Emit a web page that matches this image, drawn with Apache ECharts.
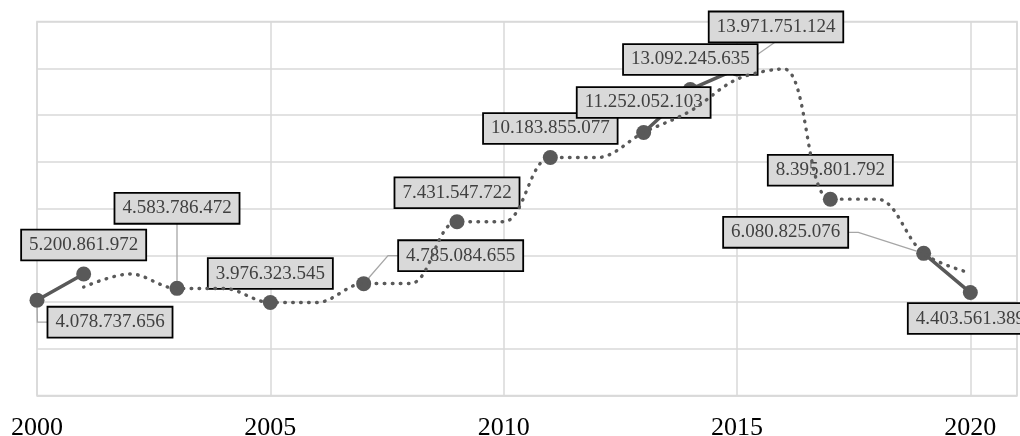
<!DOCTYPE html>
<html>
<head>
<meta charset="utf-8">
<script src="https://cdn.jsdelivr.net/npm/echarts@6/dist/echarts.min.js"></script>
<style>
  html, body { margin: 0; padding: 0; background: #ffffff; }
  #chart { width: 1020px; height: 436px; }
</style>
</head>
<body>
<div id="chart"></div>
<script>
// Yearly values (null = no figure reported for that year)
const years = [2000, 2001, 2002, 2003, 2004, 2005, 2006, 2007, 2008, 2009, 2010,
               2011, 2012, 2013, 2014, 2015, 2016, 2017, 2018, 2019, 2020];
const values = [4078737656, 5200861972, null, 4583786472, null, 3976323545, null,
                4785084655, null, 7431547722, null, 10183855077, null, 11252052103,
                13092245635, 13971751124, null, 8395801792, null, 6080825076, 4403561389];

// Two-period moving average trend, 2001-2020 (billions)
const trendYears = [2001, 2002, 2003, 2004, 2005, 2006, 2007, 2008, 2009, 2010,
                    2011, 2012, 2013, 2014, 2015, 2016, 2017, 2018, 2019, 2020];
const trendValues = [4.64, 5.20, 4.58, 4.58, 3.98, 3.98, 4.79, 4.79, 7.43, 7.43,
                     10.18, 10.18, 11.25, 12.17, 13.53, 13.97, 8.40, 8.40, 6.08, 5.24];

// Axis ticks
const xTicks = [2000, 2005, 2010, 2015, 2020];

// Placement of each value box relative to its point: [dx, dy, leader kind]
const labelPlacement = {
  2000: [73, 22, 'side'], 2001: [0, -29], 2003: [0, -80, 'straight'],
  2005: [0, -29], 2007: [97, -28, 'side'], 2009: [0, -29], 2011: [0, -29],
  2013: [0, -30], 2014: [0, -30], 2015: [39, -42, 'straight'], 2017: [0, -29],
  2019: [-138, -21, 'side'], 2020: [0, 26]
};

const LABEL_FONT_SIZE = 19;
const LABEL_FONT = LABEL_FONT_SIZE + 'px "Liberation Serif"';
const LABEL_PAD = [5, 7];
const MARKER_SIZE = 15;

function fmt(v) {
  return String(Math.round(v)).replace(/\B(?=(\d{3})+(?!\d))/g, '.');
}

const measureCtx = document.createElement('canvas').getContext('2d');
function textWidth(str) {
  measureCtx.font = LABEL_FONT;
  return measureCtx.measureText(str).width;
}

const mainData = years.map(function (yr, i) {
  const v = values[i];
  if (v == null) return [yr, null];
  const p = labelPlacement[yr] || [0, -29];
  return { value: [yr, v], label: { offset: [p[0], p[1]] } };
});

const trendData = trendYears.map(function (yr, i) {
  return [yr, trendValues[i] * 1e9];
});

// Points whose value box is joined to the marker by a leader line
const leaderData = [];
years.forEach(function (yr, i) {
  const p = labelPlacement[yr];
  if (p && p[2] && values[i] != null) leaderData.push([yr, values[i]]);
});

function renderLeader(params, api) {
  const yr = api.value(0);
  const v = api.value(1);
  const p = labelPlacement[yr];
  const pt = api.coord([yr, v]);
  const cx = pt[0] + p[0];
  const cy = pt[1] + p[1];
  const hw = textWidth(fmt(v)) / 2 + LABEL_PAD[1];
  const hh = LABEL_FONT_SIZE / 2 + LABEL_PAD[0];
  let anchor, elbow;
  if (p[2] === 'side') {
    const s = p[0] > 0 ? -1 : 1;
    anchor = [cx + s * hw, cy];
    elbow = [anchor[0] + s * 11, cy];
  } else {
    anchor = [cx, cy + (p[1] < 0 ? hh : -hh)];
    elbow = anchor;
  }
  const dx = elbow[0] - pt[0];
  const dy = elbow[1] - pt[1];
  const d = Math.sqrt(dx * dx + dy * dy) || 1;
  const r = MARKER_SIZE / 2;
  const end = [pt[0] + dx / d * r, pt[1] + dy / d * r];
  return {
    type: 'polyline',
    shape: { points: [end, elbow, anchor] },
    style: { stroke: '#a6a6a6', lineWidth: 1.3, fill: null }
  };
}

const gridColor = '#d9d9d9';
const chart = echarts.init(document.getElementById('chart'), null, { renderer: 'canvas' });

chart.setOption({
  animation: false,
  backgroundColor: '#ffffff',
  grid: {
    left: 37, right: 3, top: 21.5, bottom: 40.5,
    outerBoundsMode: 'none',
    containLabel: false,
    show: true, borderColor: gridColor, borderWidth: 1.5, backgroundColor: 'transparent'
  },
  xAxis: {
    type: 'value',
    min: 2000, max: 2021, interval: 5,
    axisLine: { show: true, lineStyle: { color: gridColor, width: 1.5 } },
    axisTick: { show: false },
    splitLine: { show: true, lineStyle: { color: gridColor, width: 1.5 } },
    axisLabel: {
      margin: 20,
      fontFamily: 'Liberation Serif',
      fontSize: 26,
      color: '#000000',
      showMaxLabel: false,
      formatter: function (v) { return xTicks.indexOf(v) >= 0 ? String(v) : ''; }
    }
  },
  yAxis: {
    type: 'value',
    min: 0, max: 16e9, interval: 2e9,
    axisLine: { show: false },
    axisTick: { show: false },
    axisLabel: { show: false },
    splitLine: { show: true, lineStyle: { color: gridColor, width: 1.5 } }
  },
  series: [
    {
      type: 'custom',
      z: 1,
      silent: true,
      data: leaderData,
      encode: { x: 0, y: 1 },
      renderItem: renderLeader
    },
    {
      type: 'line',
      z: 2,
      data: mainData,
      connectNulls: false,
      symbol: 'circle',
      symbolSize: MARKER_SIZE,
      showAllSymbol: true,
      itemStyle: { color: '#595959' },
      lineStyle: { color: '#595959', width: 3.5 },
      label: {
        show: true,
        position: 'inside',
        formatter: function (p) { return fmt(p.value[1]); },
        fontFamily: 'Liberation Serif',
        fontSize: LABEL_FONT_SIZE,
        lineHeight: LABEL_FONT_SIZE,
        color: '#404040',
        backgroundColor: '#d9d9d9',
        borderColor: '#000000',
        borderWidth: 1.8,
        padding: LABEL_PAD
      },
      emphasis: { disabled: true }
    },
    {
      type: 'line',
      z: 3,
      data: trendData,
      symbol: 'none',
      smooth: 0.35,
      lineStyle: { color: '#595959', width: 3.4, type: [0.6, 7.4], cap: 'round', join: 'round' },
      emphasis: { disabled: true },
      silent: true
    }
  ]
});
</script>
</body>
</html>
